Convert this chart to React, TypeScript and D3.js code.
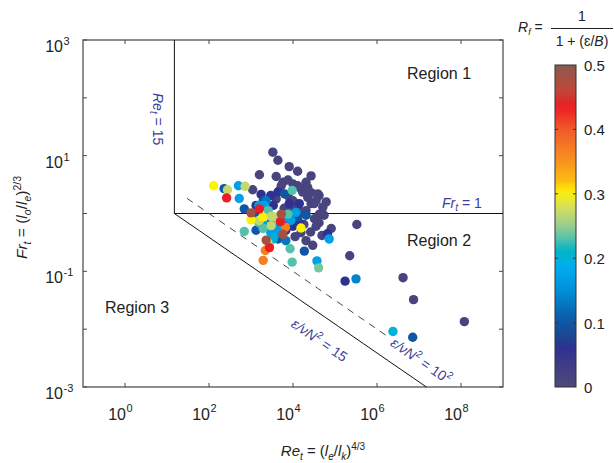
import React from 'react';
import * as d3 from 'd3';

// plot frame and colorbar geometry
const W = 614;
const H = 463;
const plot = { left: 83, right: 503, top: 40, bottom: 387 };
const cbar = { left: 555, right: 576, top: 65, bottom: 387 };

const xDomain = [1e-1, 1e9];
const yDomain = [1e-3, 1e3];
const xTickExps = [0, 2, 4, 6, 8];
const yTickExps = [-3, -2, -1, 0, 1, 2, 3];
const yLabelExps = [-3, -1, 1, 3];
const cbTicks = [0, 0.1, 0.2, 0.3, 0.4, 0.5];

// regime boundaries
const reCrit = 15; // Re_t = 15
const frCrit = 1; // Fr_t = 1
const buoyRe = [15, 100]; // eps / nu N^2
const dashedReRange = [30, 1.8e6];

// colormap
const cmapStops = [0, 0.03, 0.06, 0.078, 0.109, 0.15, 0.187, 0.213, 0.228, 0.255, 0.28, 0.305, 0.317, 0.35, 0.4, 0.435, 0.46, 0.5];
const cmapColors = ['#4d4a78', '#403e83', '#2e3192', '#1c4591', '#0a5fac', '#0090d8', '#00aeef', '#00b5c2', '#4dc0b0', '#a6cf8a', '#d7df5a', '#fff200', '#fdc010', '#f7941d', '#f15a29', '#ed1c24', '#c0463a', '#8a5a4f'];

// [log10 Re_t, log10 Fr_t, R_f]
const weakMixing: number[][] = [
  [3.52, 1.06, 0.015], [3.64, 0.92, 0.015], [3.91, 0.81, 0.015], [4.11, 0.73, 0.015], [3.2, 0.67, 0.015],
  [3.6, 0.64, 0.015], [4.43, 0.65, 0.015], [3.88, 0.58, 0.015], [4.31, 0.54, 0.015], [3.04, 0.41, 0.015],
  [4.19, 0.43, 0.015], [4.43, 0.36, 0.015], [4.62, 0.31, 0.015], [4.11, 0.48, 0.015], [3.76, 0.54, 0.015],
  [3.68, 0.4, 0.015], [3.88, 0.31, 0.015], [3.6, 0.25, 0.015], [4.43, 0.17, 0.015], [4.11, 0.11, 0.015],
  [4.79, 0.2, 0.015], [4.71, 0.11, 0.015], [4.63, -0.01, 0.015], [4.51, -0.09, 0.015], [4.26, -0.19, 0.015],
  [4.91, -0.26, 0.015], [4.69, -0.38, 0.015], [4.42, -0.32, 0.015], [4.05, -0.4, 0.015], [5.35, -0.73, 0.015],
  [5.52, -0.19, 0.015], [4.55, -0.22, 0.015], [6.62, -1.11, 0.015], [6.87, -1.49, 0.015], [8.08, -1.87, 0.015],
  [4.35, 0.28, 0.015], [4.23, 0.37, 0.015], [4.0, 0.22, 0.015], [3.79, 0.09, 0.015], [4.31, 0.05, 0.015],
  [3.95, -0.03, 0.015], [4.19, 0.0, 0.015], [4.55, 0.22, 0.015], [3.72, 0.48, 0.015], [4.0, 0.51, 0.015],
  [4.35, 0.45, 0.015], [4.59, 0.34, 0.015], [3.95, 0.11, 0.015], [4.5, 0.17, 0.015], [4.62, -0.16, 0.015],
  [4.74, -0.03, 0.015], [4.31, -0.47, 0.015], [4.47, -0.55, 0.015], [4.19, -0.33, 0.015],
  [5.24, -1.17, 0.06], [4.82, -0.35, 0.06], [3.24, 0.33, 0.06], [3.53, 0.14, 0.06], [3.91, 0.17, 0.06],
  [4.15, -0.16, 0.06], [3.76, -0.12, 0.06], [3.64, 0.37, 0.06], [4.15, 0.17, 0.06], [3.47, 0.31, 0.06],
  [3.12, 0.14, 0.06], [3.83, -0.29, 0.06], [4.0, -0.22, 0.06],
];

const moderateMixing: number[][] = [
  [2.36, 0.43, 0.1], [2.84, 0.08, 0.1], [4.11, -0.06, 0.1], [3.64, -0.44, 0.1], [4.27, -0.65, 0.1],
  [6.85, -2.14, 0.1], [3.8, 0.34, 0.1], [3.29, 0.22, 0.1], [3.12, -0.03, 0.1], [3.12, -0.29, 0.1],
  [4.31, -0.03, 0.1], [3.47, -0.16, 0.12],
  [5.5, -1.13, 0.14], [3.36, 0.22, 0.13], [3.83, -0.47, 0.13],
  [2.7, 0.48, 0.17], [2.72, 0.26, 0.17], [3.32, 0.14, 0.17], [3.95, -0.12, 0.17], [3.36, -0.21, 0.17],
  [3.64, -0.24, 0.17], [3.6, -0.35, 0.17], [4.86, -0.44, 0.17], [4.57, -0.82, 0.17], [3.47, -0.33, 0.17],
  [3.19, 0.14, 0.17], [3.76, -0.09, 0.17], [4.07, 0.02, 0.17],
  [6.38, -2.04, 0.2], [3.53, -0.44, 0.2],
  [3.98, 0.4, 0.23], [3.41, 0.05, 0.23], [3.88, -0.01, 0.23], [2.84, -0.31, 0.23], [3.93, -0.61, 0.23],
  [3.98, -0.84, 0.23], [4.61, -0.94, 0.24], [3.19, -0.16, 0.23], [3.29, -0.26, 0.23],
];

const strongMixing: number[][] = [
  [2.44, 0.41, 0.27], [2.86, 0.47, 0.27], [3.48, -0.05, 0.27], [3.56, -0.06, 0.27], [3.48, -0.21, 0.27],
  [3.4, -0.5, 0.27], [3.19, -0.12, 0.27],
  [2.11, 0.48, 0.305], [3.28, -0.06, 0.305], [3.0, -0.11, 0.305], [4.19, -0.25, 0.305],
  [3.82, -0.24, 0.37], [3.29, -0.81, 0.37], [3.34, -0.64, 0.37],
  [2.42, 0.27, 0.435], [3.2, 0.08, 0.435], [3.7, -0.14, 0.435], [3.44, -0.59, 0.435],
  [3.0, 0.01, 0.48], [3.72, -0.01, 0.48], [3.76, -0.36, 0.48], [3.36, -0.46, 0.48],
];

const FONT = 'Liberation Sans, Arial, Helvetica, sans-serif';
const BLUE = '#3a3f98';

const App = () => {
  const x = d3.scaleLog().domain(xDomain).range([plot.left, plot.right]);
  const y = d3.scaleLog().domain(yDomain).range([plot.bottom, plot.top]);
  const cb = d3.scaleLinear().domain([0, 0.5]).range([cbar.bottom, cbar.top]);
  const cmap = d3.scaleLinear<string>().domain(cmapStops).range(cmapColors).interpolate(d3.interpolateRgb);

  // Fr = sqrt(C / Re) for eps/nu N^2 = C
  const buoyLine = (c: number, re0: number, re1: number) => {
    const res = d3.range(0, 21).map(i => re0 * Math.pow(re1 / re0, i / 20));
    return d3.line<number>()
      .x(r => x(r))
      .y(r => y(Math.sqrt(c / r)))(res);
  };

  const points = [...weakMixing, ...moderateMixing, ...strongMixing];
  const gradStops = d3.range(0, 51).map(i => i / 100);

  // angle of the eps/nu N^2 lines in screen space
  const slopeRad = Math.atan2(y(Math.sqrt(15 / 1e6)) - y(Math.sqrt(15 / 1e4)), x(1e6) - x(1e4));
  const slopeDeg = slopeRad * 180 / Math.PI;
  const nx = -Math.sin(slopeRad);
  const ny = Math.cos(slopeRad);

  const lbl15Re = 2e4;
  const lbl100Re = 2.4e6;
  const p15 = [x(lbl15Re) + nx * 27, y(Math.sqrt(buoyRe[0] / lbl15Re)) + ny * 27];
  const p100 = [x(lbl100Re) + nx * 6, y(Math.sqrt(buoyRe[1] / lbl100Re)) + ny * 6];

  return (
    <svg width={W} height={H} style={{ position: 'absolute', left: 0, top: 0, background: '#fff' }} fontFamily={FONT}>
      <defs>
        <linearGradient id="cbgrad" x1="0" y1="1" x2="0" y2="0">
          {gradStops.map(v => (
            <stop key={v} offset={v / 0.5} stopColor={cmap(v)} />
          ))}
        </linearGradient>
      </defs>

      {/* frame */}
      <rect x={plot.left} y={plot.top} width={plot.right - plot.left} height={plot.bottom - plot.top} fill="none" stroke="#444" strokeWidth={1.2} />

      {/* ticks */}
      {xTickExps.map(e => (
        <g key={'xt' + e} stroke="#444" strokeWidth={1}>
          <line x1={x(10 ** e)} x2={x(10 ** e)} y1={plot.bottom} y2={plot.bottom - 4} />
          <line x1={x(10 ** e)} x2={x(10 ** e)} y1={plot.top} y2={plot.top + 4} />
        </g>
      ))}
      {yTickExps.map(e => (
        <g key={'yt' + e} stroke="#444" strokeWidth={1}>
          <line x1={plot.left} x2={plot.left + 4} y1={y(10 ** e)} y2={y(10 ** e)} />
          <line x1={plot.right} x2={plot.right - 4} y1={y(10 ** e)} y2={y(10 ** e)} />
        </g>
      ))}

      {/* tick labels */}
      {xTickExps.map(e => (
        <g key={'xl' + e} fill="#222">
          <text x={x(10 ** e) + 1} y={420} textAnchor="end" fontSize={16}>10</text>
          <text x={x(10 ** e) + 1.5} y={412} fontSize={11}>{e}</text>
        </g>
      ))}
      {yLabelExps.map(e => (
        <g key={'yl' + e} fill="#222">
          <text x={63} y={y(10 ** e) + 12} textAnchor="end" fontSize={16}>10</text>
          <text x={63.5} y={y(10 ** e) + 5} fontSize={11}>{e}</text>
        </g>
      ))}

      {/* regime boundaries */}
      <line x1={x(reCrit)} x2={x(reCrit)} y1={y(yDomain[1])} y2={y(frCrit)} stroke="#111" strokeWidth={1} />
      <line x1={x(reCrit)} x2={x(xDomain[1])} y1={y(frCrit)} y2={y(frCrit)} stroke="#111" strokeWidth={1} />
      <path d={buoyLine(buoyRe[0], reCrit, buoyRe[0] / (yDomain[0] * yDomain[0])) || ''} fill="none" stroke="#111" strokeWidth={1} />
      <path d={buoyLine(buoyRe[1], dashedReRange[0], dashedReRange[1]) || ''} fill="none" stroke="#444" strokeWidth={1} strokeDasharray="7,6" />

      {/* observations */}
      {points.map((d, i) => (
        <circle key={i} cx={x(10 ** d[0])} cy={y(10 ** d[1])} r={4.7} fill={cmap(d[2])} />
      ))}

      {/* region labels */}
      <g fontSize={16} fill="#222">
        <text x={407} y={79}>Region 1</text>
        <text x={407} y={246}>Region 2</text>
        <text x={105} y={313}>Region 3</text>
      </g>

      {/* boundary annotations */}
      <g fill={BLUE} fontSize={14} fontStyle="italic">
        <text transform={`translate(153,93) rotate(90)`}>
          Re<tspan dy={3} fontSize={10}>t</tspan><tspan dy={-3} fontStyle="normal"> = 15</tspan>
        </text>
        <text x={442} y={208}>
          Fr<tspan dy={3} fontSize={10}>t</tspan><tspan dy={-3} fontStyle="normal"> = 1</tspan>
        </text>
        <text transform={`translate(${p15[0]},${p15[1]}) rotate(${slopeDeg})`}>
          ɛ/νN<tspan dy={-6} fontSize={10} fontStyle="normal">2</tspan><tspan dy={6} fontStyle="normal"> = 15</tspan>
        </text>
        <text transform={`translate(${p100[0]},${p100[1]}) rotate(${slopeDeg})`}>
          ɛ/νN<tspan dy={-6} fontSize={10} fontStyle="normal">2</tspan><tspan dy={6} fontStyle="normal"> = 10</tspan><tspan dy={-6} fontSize={10} fontStyle="normal">2</tspan>
        </text>
      </g>

      {/* axis titles */}
      <text transform={`translate(27,${(plot.top + plot.bottom) / 2 + 4}) rotate(-90)`} textAnchor="middle" fontSize={15.5} fill="#222">
        <tspan fontStyle="italic">Fr</tspan><tspan dy={4} fontSize={10.5} fontStyle="italic">t</tspan>
        <tspan dy={-4}> = (</tspan><tspan fontStyle="italic">l</tspan><tspan dy={4} fontSize={10.5} fontStyle="italic">o</tspan>
        <tspan dy={-4}>/</tspan><tspan fontStyle="italic">l</tspan><tspan dy={4} fontSize={10.5} fontStyle="italic">e</tspan>
        <tspan dy={-4}>)</tspan><tspan dy={-6} fontSize={10.5}>2/3</tspan>
      </text>
      <text x={323} y={456} textAnchor="middle" fontSize={15} fill="#222">
        <tspan fontStyle="italic">Re</tspan><tspan dy={4} fontSize={10} fontStyle="italic">t</tspan>
        <tspan dy={-4}> = (</tspan><tspan fontStyle="italic">l</tspan><tspan dy={4} fontSize={10} fontStyle="italic">e</tspan>
        <tspan dy={-4}>/</tspan><tspan fontStyle="italic">l</tspan><tspan dy={4} fontSize={10} fontStyle="italic">k</tspan>
        <tspan dy={-4}>)</tspan><tspan dy={-6} fontSize={10}>4/3</tspan>
      </text>

      {/* colorbar */}
      <rect x={cbar.left} y={cbar.top} width={cbar.right - cbar.left} height={cbar.bottom - cbar.top} fill="url(#cbgrad)" stroke="#333" strokeWidth={1} />
      {cbTicks.map(t => (
        <g key={'cb' + t}>
          {t > 0 && t < 0.5 && (
            <g stroke="#333" strokeWidth={1}>
              <line x1={cbar.left} x2={cbar.left + 3} y1={cb(t)} y2={cb(t)} />
              <line x1={cbar.right} x2={cbar.right - 3} y1={cb(t)} y2={cb(t)} />
            </g>
          )}
          <text x={584} y={cb(t) + 6} fontSize={15} fill="#222">{t === 0 ? '0' : t.toFixed(1)}</text>
        </g>
      ))}

      {/* colorbar formula */}
      <g fill="#222" fontSize={14}>
        <text x={518} y={32}>
          <tspan fontStyle="italic">R</tspan><tspan dy={3} fontSize={9} fontStyle="italic">f</tspan><tspan dy={-3}> =</tspan>
        </text>
        <text x={582} y={21} textAnchor="middle">1</text>
        <line x1={551} x2={613} y1={28.5} y2={28.5} stroke="#222" strokeWidth={1} />
        <text x={582} y={46} textAnchor="middle">
          1 + (ɛ/<tspan fontStyle="italic">B</tspan>)
        </text>
      </g>
    </svg>
  );
};

export default App;
